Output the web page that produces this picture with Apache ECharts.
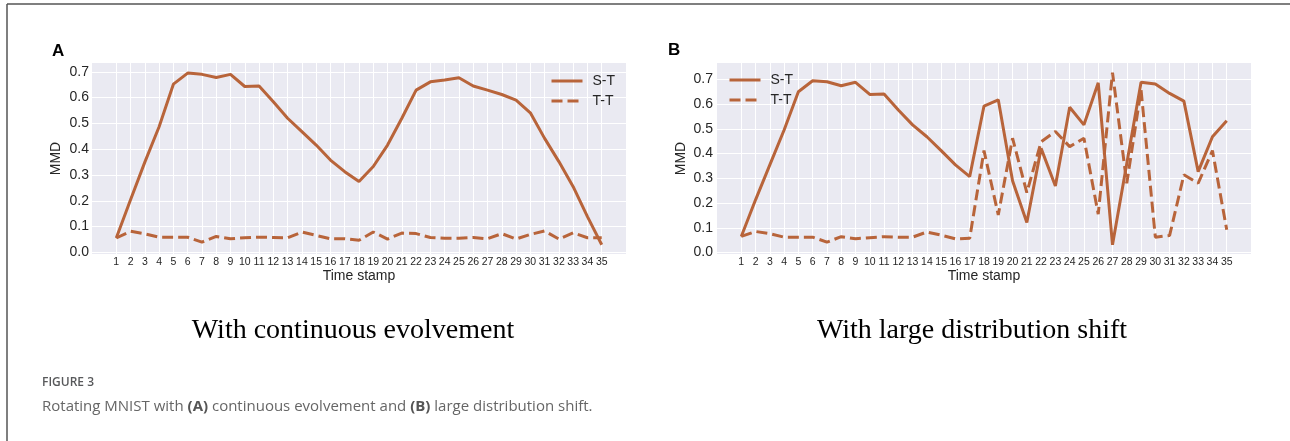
<!DOCTYPE html>
<html>
<head>
<meta charset="utf-8">
<script src="https://cdn.jsdelivr.net/npm/echarts@6/dist/echarts.min.js"></script>
<style>
  html, body { margin: 0; padding: 0; background: #fff; }
  #chart { width: 1290px; height: 441px; }
</style>
</head>
<body>
<div id="chart"></div>
<script>
// time stamps on the x axis
const timeStamps = [1, 2, 3, 4, 5, 6, 7, 8, 9, 10, 11, 12, 13, 14, 15, 16, 17, 18,
  19, 20, 21, 22, 23, 24, 25, 26, 27, 28, 29, 30, 31, 32, 33, 34, 35];
const yTicks = [0, 0.1, 0.2, 0.3, 0.4, 0.5, 0.6, 0.7];

// (A) continuous evolvement
const stContinuous = [0.056, 0.204, 0.35, 0.487, 0.652, 0.695, 0.69, 0.678, 0.69, 0.643, 0.645,
  0.584, 0.52, 0.468, 0.416, 0.358, 0.313, 0.275, 0.333, 0.416, 0.52, 0.629, 0.661, 0.668,
  0.677, 0.645, 0.629, 0.612, 0.59, 0.541, 0.442, 0.352, 0.255, 0.139, 0.03];
const ttContinuous = [0.056, 0.082, 0.072, 0.059, 0.059, 0.059, 0.04, 0.062, 0.053, 0.057,
  0.059, 0.058, 0.057, 0.079, 0.066, 0.053, 0.053, 0.047, 0.079, 0.052, 0.075, 0.073, 0.058,
  0.055, 0.055, 0.058, 0.053, 0.073, 0.052, 0.07, 0.083, 0.052, 0.076, 0.057, 0.057];

// (B) large distribution shift
const stShift = [0.065, 0.213, 0.354, 0.495, 0.65, 0.694, 0.69, 0.674, 0.688, 0.639, 0.641,
  0.576, 0.516, 0.468, 0.412, 0.354, 0.307, 0.592, 0.617, 0.29, 0.121, 0.421, 0.269, 0.587,
  0.516, 0.686, 0.031, 0.36, 0.688, 0.681, 0.643, 0.612, 0.327, 0.468, 0.533];
const ttShift = [0.065, 0.085, 0.076, 0.062, 0.062, 0.062, 0.042, 0.064, 0.056, 0.06, 0.064,
  0.062, 0.062, 0.083, 0.07, 0.055, 0.058, 0.412, 0.152, 0.462, 0.242, 0.448, 0.489, 0.428,
  0.462, 0.155, 0.727, 0.28, 0.657, 0.062, 0.069, 0.314, 0.28, 0.412, 0.092];

const lineColor = '#b8643a';
const sans = 'Liberation Sans, Arial, sans-serif';

const chart = echarts.init(document.getElementById('chart'), null, { width: 1290, height: 441 });

const pairs = vals => vals.map((v, i) => [timeStamps[i], v]);

function xAxisFor(gridIndex) {
  return {
    type: 'value', gridIndex: gridIndex,
    min: -0.7, max: 36.7,
    name: 'Time stamp', nameLocation: 'middle', nameGap: 15,
    nameTextStyle: { fontFamily: sans, fontSize: 14, color: '#262626' },
    axisLine: { show: false },
    axisTick: { show: false, customValues: timeStamps },
    axisLabel: { customValues: timeStamps, fontFamily: sans, fontSize: 10.5, color: '#262626', margin: 3 },
    splitLine: { show: true, lineStyle: { color: '#ffffff', width: 1 } }
  };
}

function yAxisFor(gridIndex, min, max, labelMargin) {
  return {
    type: 'value', gridIndex: gridIndex,
    min: min, max: max,
    name: 'MMD', nameLocation: 'middle', nameGap: 29,
    nameTextStyle: { fontFamily: sans, fontSize: 14, color: '#262626' },
    axisLine: { show: false },
    axisTick: { show: false, customValues: yTicks },
    axisLabel: {
      customValues: yTicks, fontFamily: sans, fontSize: 14, color: '#262626', margin: labelMargin,
      formatter: v => v.toFixed(1)
    },
    splitLine: { show: true, lineStyle: { color: '#ffffff', width: 1 } }
  };
}

function lineSeries(name, idx, vals, dashed) {
  return {
    name: name, type: 'line', xAxisIndex: idx, yAxisIndex: idx,
    data: pairs(vals), symbol: 'none',
    lineStyle: { color: lineColor, width: 3, type: dashed ? [11, 5] : 'solid' },
    itemStyle: { color: lineColor }
  };
}

function legendFor(names, left, top) {
  return {
    data: names, orient: 'vertical', left: left, top: top, padding: 0,
    itemWidth: 31, itemHeight: 14, itemGap: 6,
    itemStyle: { opacity: 0 },
    lineStyle: { width: 3 },
    formatter: n => n.trim(),
    textStyle: { fontFamily: sans, fontSize: 14, color: '#262626', padding: [0, 0, 0, 5] }
  };
}

const option = {
  animation: false,
  grid: [
    { left: 92, top: 63, width: 534, height: 191, show: true, backgroundColor: '#eaeaf2', borderWidth: 0 },
    { left: 717, top: 63, width: 534, height: 191, show: true, backgroundColor: '#eaeaf2', borderWidth: 0 }
  ],
  xAxis: [xAxisFor(0), xAxisFor(1)],
  yAxis: [yAxisFor(0, -0.006, 0.734, 3), yAxisFor(1, -0.006, 0.766, 4)],
  legend: [legendFor(['S-T', 'T-T'], 550, 74), legendFor(['S-T ', 'T-T '], 728, 73)],
  series: [
    lineSeries('S-T', 0, stContinuous, false),
    lineSeries('T-T', 0, ttContinuous, true),
    lineSeries('S-T ', 1, stShift, false),
    lineSeries('T-T ', 1, ttShift, true)
  ],
  graphic: [
    { type: 'line', shape: { x1: 7, y1: 4, x2: 1290, y2: 4 }, style: { stroke: '#555555', lineWidth: 1.5 } },
    { type: 'line', shape: { x1: 7, y1: 4, x2: 7, y2: 441 }, style: { stroke: '#555555', lineWidth: 1.5 } },
    { type: 'text', x: 52, y: 51, style: { text: 'A', font: 'bold 17px ' + sans, fill: '#000', verticalAlign: 'middle' } },
    { type: 'text', x: 668, y: 50, style: { text: 'B', font: 'bold 17px ' + sans, fill: '#000', verticalAlign: 'middle' } },
    { type: 'text', x: 353, y: 331, style: { text: 'With continuous evolvement', font: '28px Liberation Serif, Times New Roman, serif', fill: '#000', align: 'center', verticalAlign: 'middle' } },
    { type: 'text', x: 972, y: 331, style: { text: 'With large distribution shift', font: '28px Liberation Serif, Times New Roman, serif', fill: '#000', align: 'center', verticalAlign: 'middle' } },
    { type: 'text', x: 42, y: 383, style: { text: 'FIGURE 3', font: '600 12px Open Sans, sans-serif', fill: '#58595b', verticalAlign: 'middle' } },
    {
      type: 'text', x: 42, y: 407,
      style: {
        text: 'Rotating MNIST with {b|(A)} continuous evolvement and {b|(B)} large distribution shift.',
        font: '15px Open Sans, sans-serif', fill: '#666666', verticalAlign: 'middle',
        rich: { b: { font: 'bold 15px Open Sans, sans-serif', fill: '#555555' } }
      }
    }
  ]
};

chart.setOption(option);
</script>
</body>
</html>
